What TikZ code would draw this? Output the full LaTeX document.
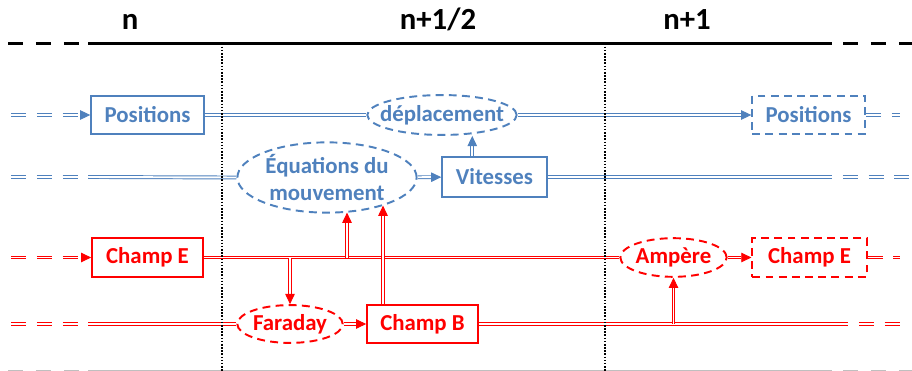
\documentclass[tikz,border=0pt]{standalone}
\usepackage{fontspec}
\setmainfont{Carlito}
\usetikzlibrary{arrows.meta,shapes.geometric,calc}
\definecolor{bleu}{RGB}{79,129,189}
\definecolor{rouge}{RGB}{255,0,0}
\definecolor{gris}{RGB}{191,191,191}
\tikzset{
  texte/.style={font=\bfseries\fontsize{13}{15.5}\selectfont},
  boite/.style={texte, draw, rectangle, line width=1.1pt, inner sep=1pt, minimum height=22pt},
  bulle/.style={texte, draw, ellipse, dash pattern=on 4.5pt off 3pt, line width=1.1pt, inner xsep=-5.5pt, inner ysep=0pt, align=center},
  lien/.style={double, double distance=1.1pt, line width=0.55pt},
  fleche/.style={lien, -{Triangle[length=5.8pt,width=5.4pt]}},
  pointille/.style={lien, dash pattern=on 8.5pt off 6.2pt},
  temps/.style={line width=1.7pt},
  tempspoint/.style={temps, dash pattern=on 8.5pt off 7.4pt},
  titre/.style={font=\bfseries\fontsize{17.5}{20}\selectfont, anchor=base, inner sep=0pt},
  separation/.style={line width=0.9pt, dash pattern=on 0.9pt off 0.9pt},
}
\begin{document}
\begin{tikzpicture}[x=0.02cm, y=-0.02cm]
                \useasboundingbox (0,0) rectangle (912,371);

                \node[titre] (tn) at (130,30) {n};
                \node[titre] (tdemi) at (438,30) {n+1/2};
                \node[titre] (tun) at (687,30) {n+1};

                \coordinate (t0) at (8,43.5);
                \coordinate (t1) at (88,43.5);
                \coordinate (t2) at (832,43.5);
                \coordinate (t3) at (843,43.5);
                \coordinate (t4) at (912,43.5);
                \draw[tempspoint] (t0) -- (80,43.5);
                \draw[temps] (t1) -- (t2);
                \draw[tempspoint] (t3) -- (t4);

                \coordinate (b0) at (8,371);
                \draw[tempspoint,gris] (b0) -- (80,371);
                \draw[temps,gris] (88,371) -- (832,371);
                \draw[tempspoint,gris] (843,371) -- (912,371);

                \node[boite,bleu,minimum width=64pt] (pos1) at (147.5,115) {Positions};
                \node[bulle,bleu,minimum width=85pt,minimum height=22.7pt] (depl) at (442,115) {déplacement};
                \node[boite,bleu,dashed,dash pattern=on 4.5pt off 3pt,minimum width=64pt] (pos2) at (808.5,115) {Positions};
                \node[bulle,bleu,minimum width=102pt,minimum height=40pt] (eqs) at (327,177.5) {Équations du\\mouvement};
                \node[boite,bleu,minimum width=59.5pt,minimum height=22.7pt] (vit) at (494.5,177) {Vitesses};

                \node[boite,rouge,minimum width=63pt] (chE1) at (147.5,257.5) {Champ E};
                \node[bulle,rouge,minimum width=60.5pt,minimum height=22pt] (amp) at (673.5,257.5) {Ampère};
                \node[boite,rouge,dashed,dash pattern=on 4.5pt off 3pt,minimum width=65pt] (chE2) at (809.5,257.5) {Champ E};
                \node[bulle,rouge,minimum width=60pt,minimum height=21.5pt] (far) at (290,324) {Faraday};
                \node[boite,rouge,minimum width=63pt,minimum height=21.5pt] (chB) at (422.5,324) {Champ B};

                \coordinate (g1) at (11,115);
                \coordinate (d1) at (900,115);
                \draw[pointille,draw=bleu,-{Triangle[length=5.8pt,width=5.4pt]}] (g1) -- (pos1);
                \draw[lien,draw=bleu] (pos1) -- (depl);
                \draw[fleche,draw=bleu] (depl) -- (pos2);
                \draw[pointille,draw=bleu] (pos2.east) -- (d1);

                \coordinate (g2) at (11,177);
                \coordinate (m2) at (89,177);
                \coordinate (f2) at (817,177);
                \coordinate (d2) at (912,177);
                \draw[pointille,draw=bleu] (g2) -- (m2);
                \draw[lien,draw=bleu] (m2) -- (eqs.west);
                \draw[fleche,draw=bleu] (eqs) -- (vit);
                \draw[lien,draw=bleu] (vit.east) -- (f2);
                \draw[pointille,draw=bleu] (f2) -- (d2);
                \coordinate (vh) at ($(vit.north west)+(31,0)$);
                \draw[fleche,draw=bleu] (vh) -- (vh |- depl.south);

                \coordinate (g3) at (11,257.5);
                \coordinate (d3) at (900,257.5);
                \draw[pointille,draw=rouge,-{Triangle[length=5.8pt,width=5.4pt]}] (g3) -- (chE1);
                \draw[lien,draw=rouge] (chE1) -- (amp);
                \draw[fleche,draw=rouge] (amp) -- (chE2);
                \draw[pointille,draw=rouge] (chE2.east) -- (d3);
                \coordinate (e1) at ($(eqs.south)+(20,-1)$);
                \draw[fleche,draw=rouge] (e1 |- chE1.east) -- (e1);
                \draw[fleche,draw=rouge] (far.north |- chE1.east) -- (far.north);

                \coordinate (g4) at (11,324);
                \coordinate (m4) at (89,324);
                \coordinate (f4) at (833,324);
                \coordinate (d4) at (905,324);
                \draw[pointille,draw=rouge] (g4) -- (m4);
                \draw[lien,draw=rouge] (m4) -- (far.west);
                \draw[fleche,draw=rouge] (far) -- (chB);
                \draw[lien,draw=rouge] (chB.east) -- (f4);
                \draw[pointille,draw=rouge] (f4) -- (d4);
                \coordinate (e2) at ($(eqs.south)+(56,-8)$);
                \draw[fleche,draw=rouge] (e2 |- chB.north) -- (e2);
                \draw[fleche,draw=rouge] (amp.south |- chB.east) -- (amp.south);

                \coordinate (s1) at (222,43.5);
                \coordinate (s2) at (605,43.5);
                \draw[separation] (s1) -- (s1 |- b0);
                \draw[separation] (s2) -- (s2 |- b0);
\end{tikzpicture}
\end{document}
